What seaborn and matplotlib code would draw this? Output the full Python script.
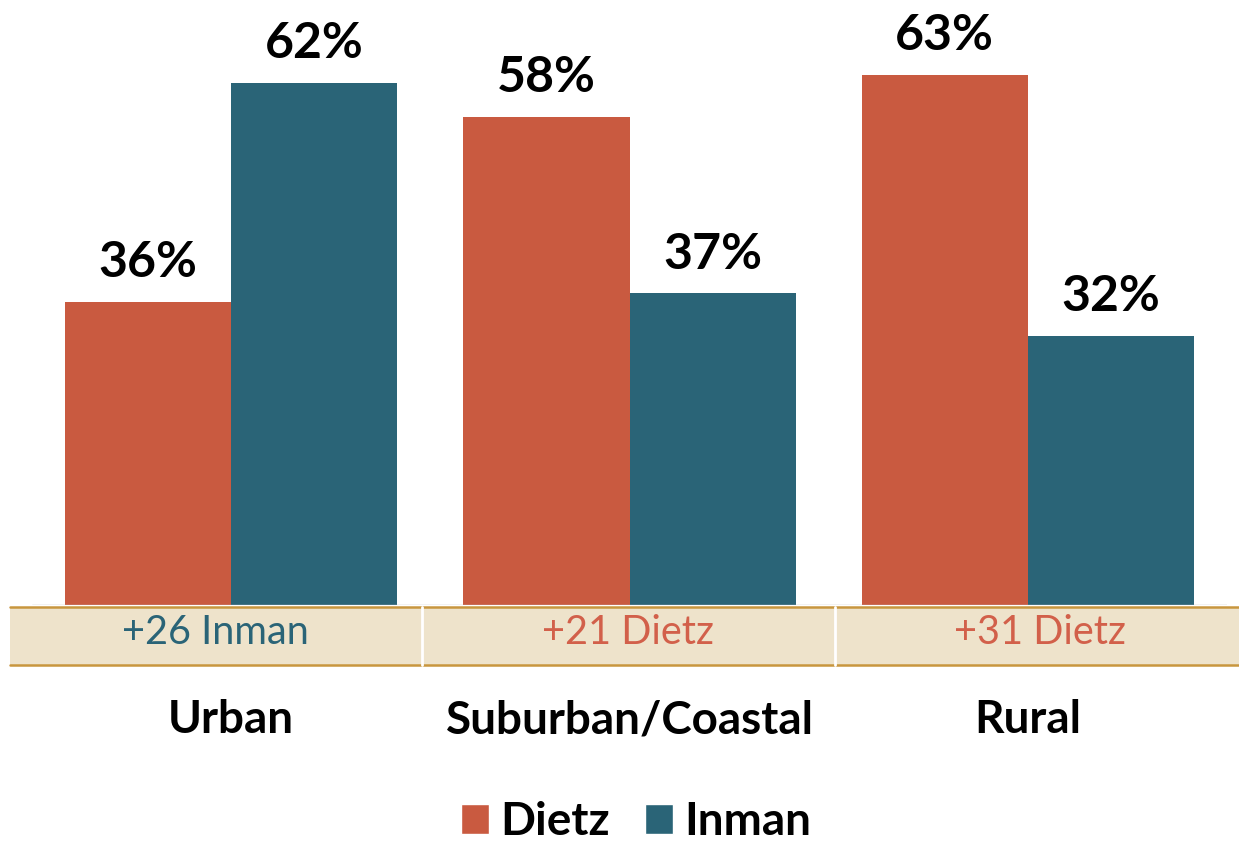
import matplotlib.pyplot as plt
import matplotlib.transforms as mtransforms
from matplotlib.patches import Patch, Rectangle
from matplotlib.lines import Line2D
import seaborn as sns
import pandas as pd

categories = ['Urban', 'Suburban/Coastal', 'Rural']
candidates = ['Dietz', 'Inman']
dietz = [36, 58, 63]
inman = [62, 37, 32]

colors = {'Dietz': '#C95A40', 'Inman': '#2A6477'}
text_colors = {'Dietz': '#D2604A', 'Inman': '#2A6477'}

df = pd.DataFrame({
    'area': categories * 2,
    'candidate': ['Dietz'] * 3 + ['Inman'] * 3,
    'share': dietz + inman,
})

sns.set_style('white')
plt.rcParams['font.family'] = ['Lato', 'DejaVu Sans']

W, H = 1239, 842
fig = plt.figure(figsize=(W / 100, H / 100), dpi=100)
ax = fig.add_axes([32 / W, (H - 605) / H, 1195 / W, 605 / H])

sns.barplot(data=df, x='area', y='share', hue='candidate', palette=colors,
            width=0.835, gap=0, saturation=1, linewidth=0, ax=ax, legend=False)
ax.set_xlim(-0.5, 2.5)
ax.set_ylim(0, 605 / 8.42)
for c in ax.containers:
    ax.bar_label(c, fmt='%d%%', fontsize=36, fontweight='bold', padding=12, color='black')

ax.set_xticks([])
ax.set_yticks([])
ax.set_xlabel('')
ax.set_ylabel('')
for s in ax.spines.values():
    s.set_visible(False)
ax.axhline(0, color='#BFBFBF', lw=1)

# margin band
band_top, band_bot = 607, 665
fig.patches.append(Rectangle((10 / W, 1 - band_bot / H), 1229 / W, (band_bot - band_top) / H,
                             transform=fig.transFigure, facecolor='#EEE3CB', edgecolor='none'))
for yy in (band_top, band_bot):
    fig.lines.append(Line2D([10 / W, 1], [1 - yy / H] * 2, transform=fig.transFigure,
                            color='#C8963E', lw=1.8))
for xx in (422, 835):
    fig.lines.append(Line2D([xx / W] * 2, [1 - band_bot / H, 1 - band_top / H],
                            transform=fig.transFigure, color='white', lw=2))

trans = mtransforms.blended_transform_factory(ax.transData, fig.transFigure)
band_x = [215, 628, 1040]
for i, cat in enumerate(categories):
    diff = inman[i] - dietz[i]
    leader = 'Inman' if diff > 0 else 'Dietz'
    fig.text(band_x[i] / W, 1 - 633 / H, f'+{abs(diff)} {leader}', ha='center', va='center',
             fontsize=28.5, color=text_colors[leader])
    ax.text(i, 1 - 720 / H, cat, transform=trans, ha='center', va='center',
            fontsize=33, fontweight='bold', color='black')

handles = [Patch(facecolor=colors[c], label=c) for c in candidates]
fig.legend(handles=handles, loc='center', bbox_to_anchor=(636 / W, 1 - 822 / H), ncol=2,
           frameon=False, handlelength=0.62, handleheight=0.62, handletextpad=0.25,
           columnspacing=0.75, labelcolor='black', prop={'size': 33, 'weight': 'bold'})

fig.savefig('out.png', dpi=100)
